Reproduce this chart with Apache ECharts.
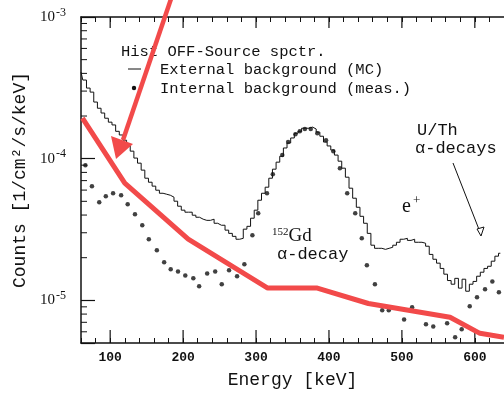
<!DOCTYPE html>
<html>
<head>
<meta charset="utf-8">
<script src="https://cdn.jsdelivr.net/npm/echarts@6.0.0/dist/echarts.min.js"></script>
<style>
  html, body { margin: 0; padding: 0; background: #fff; }
  #main { width: 504px; height: 393px; }
</style>
</head>
<body>
<div id="main"></div>
<script>
// axis ranges
const energyMin = 60
const energyMax = 640
const countsMin = 5e-6
const countsMax = 1e-3
const majorEnergyTicks = [100, 200, 300, 400, 500, 600]
const minorCountTicks = [6e-6, 7e-6, 8e-6, 9e-6,
  2e-5, 3e-5, 4e-5, 5e-5, 6e-5, 7e-5, 8e-5, 9e-5,
  2e-4, 3e-4, 4e-4, 5e-4, 6e-4, 7e-4, 8e-4, 9e-4]

// external background (MC), histogram
const histEnergy = [60, 65, 70, 75, 80, 85, 90, 95, 100, 105, 110, 115, 120, 125, 130, 135, 140, 145, 150, 155,
  160, 165, 170, 175, 180, 185, 190, 195, 200, 205, 210, 215, 220, 225, 230, 235, 240, 245, 250, 255,
  260, 265, 270, 275, 280, 285, 290, 295, 300, 305, 310, 315, 320, 325, 330, 335, 340, 345, 350, 355,
  360, 365, 370, 375, 380, 385, 390, 395, 400, 405, 410, 415, 420, 425, 430, 435, 440, 445, 450, 455,
  460, 465, 470, 475, 480, 485, 490, 495, 500, 505, 510, 515, 520, 525, 530, 535, 540, 545, 550, 555,
  560, 565, 570, 575, 580, 585, 590, 595, 600, 605, 610, 615, 620, 625, 630, 635]
const histCounts = [4.08e-4, 3.59e-4, 3.15e-4, 2.95e-4, 2.51e-4, 2.27e-4, 2.10e-4, 1.93e-4, 1.81e-4, 1.73e-4,
  1.56e-4, 1.47e-4, 1.35e-4, 1.23e-4, 1.13e-4, 1.01e-4, 9.3e-5, 8.3e-5, 7.28e-5, 6.82e-5,
  6.4e-5, 5.99e-5, 5.70e-5, 5.61e-5, 5.52e-5, 5.35e-5, 5.01e-5, 4.62e-5, 4.33e-5, 4.19e-5,
  4.19e-5, 3.99e-5, 3.86e-5, 3.74e-5, 3.67e-5, 3.67e-5, 3.74e-5, 3.50e-5, 3.39e-5, 3.39e-5,
  3.13e-5, 2.97e-5, 2.83e-5, 2.70e-5, 2.74e-5, 3.18e-5, 3.33e-5, 3.80e-5, 4.33e-5, 5.09e-5,
  5.70e-5, 6.29e-5, 7.28e-5, 8.43e-5, 9.45e-5, 1.04e-4, 1.19e-4, 1.29e-4, 1.40e-4, 1.51e-4,
  1.56e-4, 1.64e-4, 1.64e-4, 1.67e-4, 1.62e-4, 1.54e-4, 1.44e-4, 1.31e-4, 1.23e-4, 1.15e-4,
  1.06e-4, 9.6e-5, 8.57e-5, 7.40e-5, 6.19e-5, 5.26e-5, 4.54e-5, 3.92e-5, 3.50e-5, 2.97e-5,
  2.45e-5, 2.33e-5, 2.33e-5, 2.29e-5, 2.33e-5, 2.37e-5, 2.45e-5, 2.57e-5, 2.70e-5, 2.74e-5,
  2.65e-5, 2.70e-5, 2.57e-5, 2.57e-5, 2.53e-5, 2.41e-5, 2.11e-5, 1.95e-5, 1.83e-5, 1.68e-5,
  1.53e-5, 1.38e-5, 1.30e-5, 1.43e-5, 1.22e-5, 1.41e-5, 1.16e-5, 1.30e-5, 1.36e-5, 1.48e-5,
  1.58e-5, 1.68e-5, 1.74e-5, 1.89e-5, 2.05e-5, 2.15e-5]

// internal background (measured), dots
const dotEnergy = [66, 75, 85, 94, 104, 115, 124, 134, 144, 153, 164, 174, 183, 193, 203, 214, 222, 233, 244, 253,
  263, 274, 284, 295, 303, 315, 323, 336, 344, 354, 360, 367, 375, 384, 396, 406, 415, 425, 436, 445,
  452, 463, 473, 482, 503, 514, 533, 543, 562, 573, 582, 593, 603, 614, 624, 633]
const dotCounts = [8.99e-5, 6.39e-5, 4.93e-5, 5.43e-5, 5.70e-5, 5.52e-5, 4.77e-5, 4.05e-5, 3.39e-5, 2.70e-5,
  2.26e-5, 1.86e-5, 1.66e-5, 1.60e-5, 1.50e-5, 1.43e-5, 1.26e-5, 1.55e-5, 1.60e-5, 1.30e-5,
  1.63e-5, 1.48e-5, 1.80e-5, 2.88e-5, 4.12e-5, 5.70e-5, 7.77e-5, 1.06e-4, 1.31e-4, 1.49e-4,
  1.56e-4, 1.62e-4, 1.62e-4, 1.51e-4, 1.35e-4, 1.13e-4, 8.57e-5, 5.70e-5, 4.12e-5, 2.74e-5,
  1.77e-5, 1.30e-5, 8.50e-6, 8.50e-6, 7.34e-6, 8.93e-6, 6.77e-6, 6.55e-6, 6.88e-6, 5.48e-6,
  6.24e-6, 9.07e-6, 1.05e-5, 1.20e-5, 1.36e-5, 1.14e-5]

// red hand-drawn trend line
const redEnergy = [62, 120, 207, 316, 384, 454, 566, 607, 640]
const redCounts = [1.93e-4, 6.71e-5, 2.70e-5, 1.22e-5, 1.22e-5, 9.5e-6, 7.6e-6, 5.85e-6, 5.48e-6]

const ink = '#111'
const red = '#f24a4a'
const mono = '"Liberation Mono", "DejaVu Sans Mono", monospace'
const serif = '"Liberation Serif", "DejaVu Serif", serif'

const zip = (xs, ys) => xs.map((x, i) => [x, ys[i]])

const chart = echarts.init(document.getElementById('main'))

const supLabel = (v) => {
  const lg = Math.log10(v)
  const e = Math.round(lg)
  if (Math.abs(lg - e) > 1e-6) return ''
  return '{b|10}{s|-' + (-e) + '}'
}

const option = {
  animation: false,
  backgroundColor: '#fff',
  grid: {
    left: 81, right: 0, top: 17, bottom: 50,
    outerBoundsMode: 'none'
  },
  xAxis: [{
    type: 'value',
    min: energyMin,
    max: energyMax,
    interval: 20,
    position: 'bottom',
    axisLine: {lineStyle: {color: ink, width: 1.5}},
    axisTick: {inside: true, length: 5, lineStyle: {color: ink, width: 1}},
    axisLabel: {
      formatter: (v) => (v % 100 === 0 ? String(v) : ''),
      margin: 8,
      color: ink,
      fontFamily: mono,
      fontSize: 13,
      fontWeight: 'bold'
    },
    splitLine: {show: false},
    name: 'Energy [keV]',
    nameLocation: 'middle',
    nameGap: 28,
    nameTextStyle: {color: ink, fontFamily: mono, fontSize: 18}
  }, {
    type: 'value',
    min: energyMin,
    max: energyMax,
    interval: 20,
    position: 'top',
    axisLine: {lineStyle: {color: ink, width: 1.5}},
    axisTick: {inside: true, length: 5, lineStyle: {color: ink, width: 1}},
    axisLabel: {show: false},
    splitLine: {show: false}
  }],
  yAxis: [{
    type: 'log',
    logBase: 10,
    min: countsMin,
    max: countsMax,
    position: 'left',
    axisLine: {lineStyle: {color: ink, width: 1.5}},
    axisTick: {inside: true, length: 14, lineStyle: {color: ink, width: 1.2}},
    axisLabel: {
      formatter: supLabel,
      margin: 15,
      rich: {
        b: {fontFamily: serif, fontSize: 15, color: ink},
        s: {fontFamily: serif, fontSize: 12, color: ink, padding: [0, 0, 9, 1]}
      }
    },
    splitLine: {show: false},
    name: 'Counts [1/cm²/s/keV]',
    nameLocation: 'middle',
    nameGap: 50,
    nameTextStyle: {color: ink, fontFamily: mono, fontSize: 18}
  }],
  series: [{
    name: 'External background (MC)',
    type: 'line',
    step: 'middle',
    data: zip(histEnergy, histCounts),
    showSymbol: false,
    lineStyle: {color: ink, width: 1},
    z: 2
  }, {
    name: 'Internal background (meas.)',
    type: 'scatter',
    data: zip(dotEnergy, dotCounts),
    symbol: 'circle',
    symbolSize: 4.5,
    itemStyle: {color: '#111'},
    z: 3
  }, {
    name: 'trend',
    type: 'line',
    data: zip(redEnergy, redCounts),
    showSymbol: false,
    lineStyle: {color: red, width: 5},
    z: 6
  }, {
    // long ticks at every 100 keV, bottom and top frame
    type: 'custom',
    silent: true,
    data: majorEnergyTicks.map(v => [v, countsMin]),
    renderItem: (params, api) => {
      const b = api.coord([api.value(0), countsMin])
      const t = api.coord([api.value(0), countsMax])
      return {
        type: 'group',
        children: [
          {type: 'line', shape: {x1: b[0], y1: b[1], x2: b[0], y2: b[1] - 13}, style: {stroke: ink, lineWidth: 1.2}},
          {type: 'line', shape: {x1: t[0], y1: t[1], x2: t[0], y2: t[1] + 11}, style: {stroke: ink, lineWidth: 1.2}}
        ]
      }
    },
    z: 4
  }, {
    // minor log ticks on the left frame
    type: 'custom',
    silent: true,
    data: minorCountTicks.map(v => [energyMin, v]),
    renderItem: (params, api) => {
      const p = api.coord([energyMin, api.value(1)])
      return {type: 'line', shape: {x1: p[0], y1: p[1], x2: p[0] + 6, y2: p[1]}, style: {stroke: ink, lineWidth: 1}}
    },
    z: 4
  }],
  graphic: [
    // legend block
    {type: 'text', x: 121, y: 52, style: {text: 'Hist OFF-Source spctr.', font: '15.5px ' + mono, fill: ink, verticalAlign: 'middle'}},
    {type: 'line', shape: {x1: 128, y1: 69, x2: 141, y2: 69}, style: {stroke: ink, lineWidth: 1}},
    {type: 'text', x: 160, y: 70, style: {text: 'External background (MC)', font: '15.5px ' + mono, fill: ink, verticalAlign: 'middle'}},
    {type: 'circle', shape: {cx: 134, cy: 88, r: 2.2}, style: {fill: '#111'}},
    {type: 'text', x: 160, y: 89, style: {text: 'Internal background (meas.)', font: '15.5px ' + mono, fill: ink, verticalAlign: 'middle'}},
    // peak annotations
    {type: 'text', x: 272, y: 236, style: {
      text: '{s|152}{b|Gd}', verticalAlign: 'middle',
      rich: {
        s: {fontFamily: serif, fontSize: 11, fill: ink, padding: [0, 0, 8, 0]},
        b: {fontFamily: serif, fontSize: 19, fill: ink}
      }
    }},
    {type: 'text', x: 277, y: 254, style: {text: 'α-decay', font: '17px ' + mono, fill: ink, verticalAlign: 'middle'}},
    {type: 'text', x: 402, y: 207, style: {
      text: '{b|e}{s|+}', verticalAlign: 'middle',
      rich: {
        b: {fontFamily: serif, fontSize: 20, fill: ink},
        s: {fontFamily: serif, fontSize: 13, fill: ink, padding: [0, 0, 12, 2]}
      }
    }},
    {type: 'text', x: 417, y: 130, style: {text: 'U/Th', font: '17px ' + mono, fill: ink, verticalAlign: 'middle'}},
    {type: 'text', x: 415, y: 148, style: {text: 'α-decays', font: '17px ' + mono, fill: ink, verticalAlign: 'middle'}},
    // thin black pointer to the U/Th region
    {type: 'line', shape: {x1: 453, y1: 163, x2: 480, y2: 232}, style: {stroke: ink, lineWidth: 1}},
    {type: 'polygon', shape: {points: [[481, 236], [477, 229], [484, 227]]}, style: {fill: '#fff', stroke: ink, lineWidth: 1}},
    // red arrow
    {type: 'line', z: 10, shape: {x1: 172, y1: -4, x2: 123, y2: 140}, style: {stroke: red, lineWidth: 4.5}},
    {type: 'polygon', z: 10, shape: {points: [[116, 159], [111, 136], [133, 144]]}, style: {fill: red}}
  ]
}

chart.setOption(option)
</script>
</body>
</html>
